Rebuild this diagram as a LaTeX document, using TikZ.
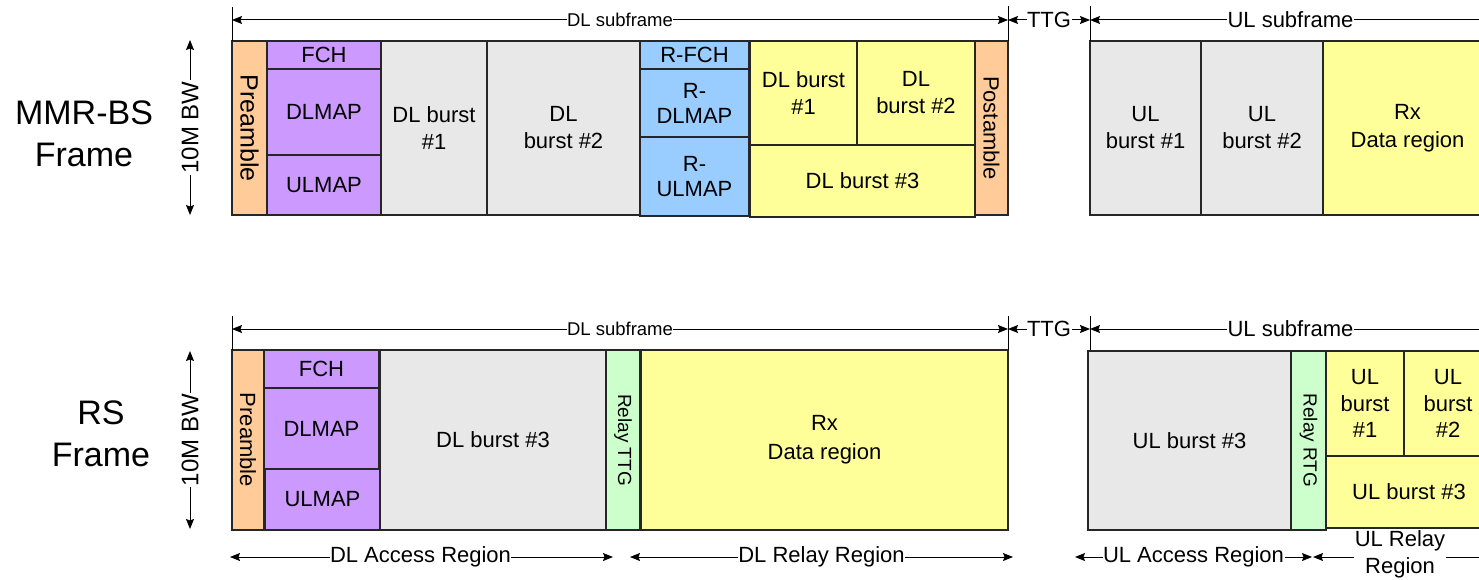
\documentclass[tikz,border=0pt]{standalone}
\usepackage{fontspec}
\setmainfont{Liberation Sans}
\usetikzlibrary{arrows.meta}

% rectangular field: name, style, x1, y1, x2, y2, text
\newcommand\blockcell[7]{%
  \node[fieldbox,#2,minimum width={(#5-#3)*1pt},minimum height={(#6-#4)*1pt}]
    (#1) at ({(#3+#5)/2},{(#4+#6)/2}) {#7};}
% same, with text running top to bottom
\newcommand\rotcell[7]{%
  \node[fieldbox,#2,rotate=-90,minimum width={(#6-#4)*1pt},minimum height={(#5-#3)*1pt}]
    (#1) at ({(#3+#5)/2},{(#4+#6)/2}) {#7};}

\definecolor{pre}{HTML}{FFCC99}
\definecolor{map}{HTML}{CC99FF}
\definecolor{burst}{HTML}{E8E8E8}
\definecolor{rmap}{HTML}{99CCFF}
\definecolor{relay}{HTML}{FFFF99}
\definecolor{gap}{HTML}{CCFFCC}

\begin{document}
\begin{tikzpicture}[x=1pt,y=-1pt,
  fieldbox/.style={draw=black!85,line width=1.3pt,inner sep=0pt,align=center,
    font=\fontsize{22}{27}\selectfont},
  dim/.style={line width=1pt,{Stealth[length=10pt,width=8pt,inset=1.5pt]}-{Stealth[length=10pt,width=8pt,inset=1.5pt]}},
  tick/.style={line width=1pt},
  dimtext/.style={fill=white,inner sep=0.5pt,font=\fontsize{22}{26}\selectfont,align=center},
  small/.style={font=\fontsize{19}{22}\selectfont},
  big/.style={font=\fontsize{34}{42}\selectfont,align=center}]
\useasboundingbox (0,0) rectangle (1479,580);
\clip (0,0) rectangle (1479,580);
\fill[white] (0,0) rectangle (1479,580);

% ---------------- MMR-BS frame ----------------
\node[big] (bslabel) at (84,134) {MMR-BS\\Frame};
\coordinate (bwtA) at (190,40);
\coordinate (bwbA) at (190,215);
\draw[dim] (bwtA) -- (bwbA) node[midway,fill=white,inner sep=1pt,rotate=90,font=\fontsize{24}{28}\selectfont] {10M BW};

\rotcell{pA}{fill=pre,font=\fontsize{25}{28}\selectfont}{232}{41}{267}{215}{Preamble}
\blockcell{fchA}{fill=map}{267}{41}{381}{69}{FCH}
\blockcell{dlmapA}{fill=map}{267}{69}{381}{155}{DLMAP}
\blockcell{ulmapA}{fill=map}{267}{155}{381}{215}{ULMAP}
\blockcell{dlb1A}{fill=burst}{381}{41}{487}{215}{DL burst\\\#1}
\blockcell{dlb2A}{fill=burst}{487}{41}{640}{215}{DL\\burst \#2}
\blockcell{rfch}{fill=rmap}{640}{41}{749}{69}{R-FCH}
\blockcell{rdlmap}{fill=rmap,font=\fontsize{22}{25}\selectfont}{640}{69}{749}{137}{R-\\DLMAP}
\blockcell{rulmap}{fill=rmap,font=\fontsize{22}{25}\selectfont}{640}{137}{749}{216}{R-\\ULMAP}
\blockcell{rdl1}{fill=relay}{750}{41}{857}{145}{DL burst\\\#1}
\blockcell{rdl2}{fill=relay}{857}{41}{975}{145}{DL\\burst \#2}
\blockcell{rdl3}{fill=relay}{750}{145}{975}{217}{DL burst \#3}
\rotcell{postA}{fill=pre}{975}{41}{1008}{215}{Postamble}
\blockcell{ulb1A}{fill=burst}{1090}{41}{1201}{215}{UL\\burst \#1}
\blockcell{ulb2A}{fill=burst}{1201}{41}{1323}{215}{UL\\burst \#2}
\blockcell{rxA}{fill=relay,font=\fontsize{22}{28}\selectfont}{1323}{41}{1492}{215}{Rx\\Data region}

\coordinate (t1A) at (232,7);   \coordinate (b1A) at (232,41);
\coordinate (t2A) at (1008,6);  \coordinate (b2A) at (1008,41);
\coordinate (t3A) at (1090,6);  \coordinate (b3A) at (1090,41);
\coordinate (endA) at (1491,20);
\draw[tick] (t1A) -- (b1A);
\draw[tick] (t2A) -- (b2A);
\draw[tick] (t3A) -- (b3A);
\draw[dim] (232,20) -- (1008,20) node[midway,dimtext,font=\fontsize{18.5}{22}\selectfont] {DL subframe};
\draw[dim] (1008,20) -- (1090,20) node[midway,dimtext] {TTG};
\draw[dim] (1090,20) -- (endA) node[midway,dimtext] {UL subframe};

% ---------------- RS frame ----------------
\node[big] (rslabel) at (101,434) {RS\\Frame};
\coordinate (bwtB) at (190,351);
\coordinate (bwbB) at (190,529);
\draw[dim] (bwtB) -- (bwbB) node[midway,fill=white,inner sep=1pt,rotate=90,font=\fontsize{24}{28}\selectfont] {10M BW};

\rotcell{pB}{fill=pre}{232}{350}{264}{530}{Preamble}
\blockcell{fchB}{fill=map}{264}{350}{379}{388}{FCH}
\blockcell{dlmapB}{fill=map}{264}{388}{379}{469}{DLMAP}
\blockcell{ulmapB}{fill=map}{265}{469}{380}{530}{ULMAP}
\blockcell{dlb3B}{fill=burst}{380}{350}{606}{530}{DL burst \#3}
\rotcell{rttg}{fill=gap,small}{606}{350}{640}{530}{Relay TTG}
\blockcell{rxB}{fill=relay,font=\fontsize{22}{29}\selectfont}{641}{350}{1008}{530}{Rx\\Data region}
\blockcell{ulb3B}{fill=burst}{1088}{351}{1291}{530}{UL burst \#3}
\rotcell{rrtg}{fill=gap,small}{1291}{351}{1326}{530}{Relay RTG}
\blockcell{rul1}{fill=relay,font=\fontsize{22}{26.5}\selectfont}{1326}{351}{1404}{456}{UL\\burst\\\#1}
\blockcell{rul2}{fill=relay,font=\fontsize{22}{26.5}\selectfont}{1404}{351}{1492}{456}{UL\\burst\\\#2}
\blockcell{rul3}{fill=relay}{1326}{456}{1492}{528}{UL burst \#3}

\coordinate (t1B) at (232,316);  \coordinate (b1B) at (232,350);
\coordinate (t2B) at (1008,316); \coordinate (b2B) at (1008,350);
\coordinate (t3B) at (1090,316); \coordinate (b3B) at (1090,350);
\coordinate (endB) at (1491,329);
\draw[tick] (t1B) -- (b1B);
\draw[tick] (t2B) -- (b2B);
\draw[tick] (t3B) -- (b3B);
\draw[dim] (232,329) -- (1008,329) node[midway,dimtext,font=\fontsize{18.5}{22}\selectfont] {DL subframe};
\draw[dim] (1008,329) -- (1090,329) node[midway,dimtext] {TTG};
\draw[dim] (1090,329) -- (endB) node[midway,dimtext] {UL subframe};

% region spans below the RS frame
\coordinate (dlaL) at (230,557);  \coordinate (dlaR) at (613,557);
\coordinate (dlrL) at (630,557);  \coordinate (dlrR) at (1013,557);
\coordinate (ulaL) at (1075,557); \coordinate (ulaR) at (1312,557);
\coordinate (ulrL) at (1313,557); \coordinate (ulrR) at (1491,557);
\draw[dim] (dlaL) -- (dlaR) node[midway,dimtext,xshift=-1pt] {DL Access Region};
\draw[dim] (dlrL) -- (dlrR) node[midway,dimtext] {DL Relay Region};
\draw[dim] (ulaL) -- (ulaR) node[midway,dimtext] {UL Access Region};
\draw[dim] (ulrL) -- (ulrR);
\node[dimtext,font=\fontsize{22}{27}\selectfont,inner sep=0.5pt] (ulrtext) at (1400,554) {UL Relay\\Region};
\end{tikzpicture}
\end{document}
